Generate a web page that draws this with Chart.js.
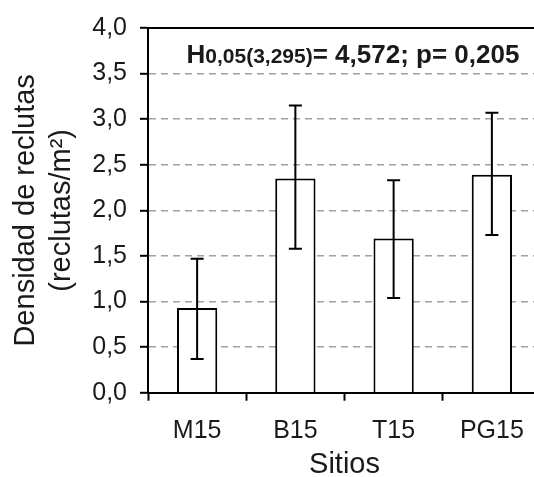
<!DOCTYPE html>
<html lang="es">
  <head>
    <meta charset="UTF-8" />
    <title>Densidad de reclutas por sitio</title>
    <style>
      html,
      body {
        margin: 0;
        padding: 0;
        background: #fff;
        overflow: hidden;
      }

      #chart-box {
        width: 560px;
        height: 477px;
      }
    </style>
  </head>
  <body>
    <div id="chart-box">
      <canvas id="densityChart" width="560" height="477"></canvas>
    </div>

    <script src="https://cdn.jsdelivr.net/npm/chart.js@4.4.0/dist/chart.umd.min.js"></script>
    <script>
      // datos
      const sites = ["M15", "B15", "T15", "PG15"];
      const density = [0.93, 2.35, 1.69, 2.39];
      const errLow = [0.37, 1.58, 1.04, 1.73];
      const errHigh = [1.47, 3.15, 2.33, 3.07];
      const yTickLabels = ["0,0", "0,5", "1,0", "1,5", "2,0", "2,5", "3,0", "3,5", "4,0"];

      const statMain = "H";
      const statSub = "0,05(3,295)";
      const statRest = "= 4,572; p= 0,205";

      const FONT = '"Liberation Sans", Arial, sans-serif';
      const INK = "#1a1a1a";

      // barras de error (media +/- error)
      const errorBars = {
        id: "errorBars",
        afterDatasetsDraw(chart) {
          const { ctx } = chart;
          const y = chart.scales.y;
          const meta = chart.getDatasetMeta(0);
          ctx.save();
          ctx.strokeStyle = "#000";
          ctx.lineWidth = 2;
          meta.data.forEach((bar, i) => {
            const top = y.getPixelForValue(errHigh[i]);
            const bottom = y.getPixelForValue(errLow[i]);
            const cap = 6.5;
            ctx.beginPath();
            ctx.moveTo(bar.x, top);
            ctx.lineTo(bar.x, bottom);
            ctx.moveTo(bar.x - cap, top);
            ctx.lineTo(bar.x + cap, top);
            ctx.moveTo(bar.x - cap, bottom);
            ctx.lineTo(bar.x + cap, bottom);
            ctx.stroke();
          });
          ctx.restore();
        },
      };

      // borde superior y texto del estadistico
      const frameAndStat = {
        id: "frameAndStat",
        afterDraw(chart) {
          const { ctx, chartArea } = chart;
          ctx.save();
          ctx.strokeStyle = "#000";
          ctx.lineWidth = 2;
          ctx.beginPath();
          ctx.moveTo(chartArea.left, chartArea.top);
          ctx.lineTo(chartArea.right, chartArea.top);
          ctx.stroke();

          let x = chartArea.left + 38.5;
          const base = chartArea.top + 35;
          ctx.fillStyle = INK;
          ctx.textBaseline = "alphabetic";
          ctx.font = "bold 26px " + FONT;
          ctx.fillText(statMain, x, base);
          x += ctx.measureText(statMain).width;
          ctx.font = "bold 21px " + FONT;
          ctx.fillText(statSub, x, base);
          x += ctx.measureText(statSub).width;
          ctx.font = "bold 26px " + FONT;
          ctx.fillText(statRest, x, base);
          ctx.restore();
        },
      };

      const ctx = document.getElementById("densityChart").getContext("2d");
      new Chart(ctx, {
        type: "bar",
        data: {
          labels: sites,
          datasets: [
            {
              data: density,
              backgroundColor: "#fff",
              borderColor: "#000",
              borderWidth: 2,
              borderSkipped: "start",
              categoryPercentage: 1,
              barPercentage: 0.41,
            },
          ],
        },
        options: {
          responsive: false,
          animation: false,
          layout: { padding: { top: 20, right: 19, bottom: 0, left: 0 } },
          plugins: {
            legend: { display: false },
            tooltip: { enabled: false },
          },
          scales: {
            x: {
              z: 1,
              offset: true,
              afterFit: (scale) => {
                scale.height = 84.3;
              },
              grid: {
                offset: true,
                drawOnChartArea: false,
                drawTicks: true,
                tickLength: 8,
                tickColor: "#000",
                tickWidth: 2,
              },
              border: { display: true, color: "#000", width: 2 },
              ticks: {
                color: INK,
                padding: 15,
                font: { family: FONT, size: 25 },
              },
              title: {
                display: true,
                text: "Sitios",
                color: INK,
                padding: { top: 0, bottom: -2 },
                font: { family: FONT, size: 29, lineHeight: 1 },
              },
            },
            y: {
              min: 0,
              max: 4,
              afterFit: (scale) => {
                scale.width = 148;
              },
              ticks: {
                stepSize: 0.5,
                color: INK,
                padding: 13,
                font: { family: FONT, size: 25 },
                callback: (value, index) => yTickLabels[index],
              },
              grid: {
                color: (c) =>
                  c.tick && (c.tick.value === 0 || c.tick.value === 4)
                    ? "rgba(0,0,0,0)"
                    : "#a0a0a0",
                lineWidth: 1.6,
                tickLength: 8,
                tickColor: "#000",
                tickWidth: 2,
                tickBorderDash: [],
              },
              border: { display: true, color: "#000", width: 2, dash: [7, 5] },
              title: {
                display: true,
                text: ["Densidad de reclutas", "(reclutas/m²)"],
                color: INK,
                padding: { top: 8, bottom: 0 },
                font: { family: FONT, size: 29, lineHeight: 1.25 },
              },
            },
          },
        },
        plugins: [errorBars, frameAndStat],
      });
    </script>
  </body>
</html>
